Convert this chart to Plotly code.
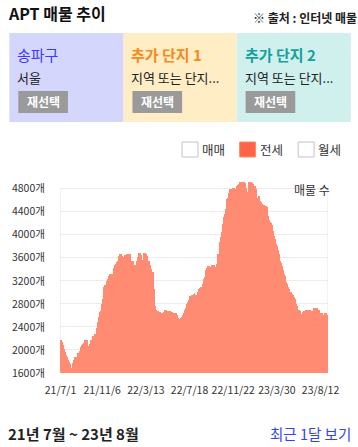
import plotly.graph_objects as go

# ---------------- data ----------------
listing_counts = [
    2170, 2170, 2140, 2080, 2020, 1960, 1920, 1880, 1820, 1790,
    1760, 1690, 1680, 1770, 1830, 1880, 1880, 1880, 1950, 1950,
    1980, 2060, 2080, 2100, 2120, 2170, 2170, 2170, 2070, 2050,
    2100, 2170, 2170, 2240, 2240, 2270, 2270, 2380, 2480, 2570,
    2660, 2680, 2800, 2880, 3090, 3120, 3120, 3190, 3240, 3280,
    3310, 3310, 3280, 3310, 3430, 3470, 3490, 3520, 3550, 3630,
    3660, 3660, 3630, 3580, 3620, 3640, 3650, 3660, 3660, 3660,
    3660, 3540, 3540, 3550, 3480, 3400, 3480, 3540, 3620, 3680,
    3680, 3640, 3560, 3570, 3680, 3680, 3660, 3630, 3550, 3540,
    3470, 3400, 3350, 3350, 3060, 2760, 2690, 2680, 2670, 2660,
    2660, 2650, 2640, 2620, 2660, 2700, 2700, 2650, 2670, 2670,
    2670, 2660, 2660, 2650, 2600, 2640, 2640, 2600, 2550, 2510,
    2540, 2560, 2570, 2600, 2640, 2700, 2720, 2800, 2830, 2860,
    2940, 2940, 2950, 2950, 2980, 2990, 2960, 2950, 2930, 3000,
    3050, 3080, 3090, 3090, 3150, 3240, 3260, 3390, 3430, 3450,
    3450, 3370, 3440, 3470, 3480, 3480, 3420, 3440, 3500, 3660,
    3660, 3870, 3960, 4050, 4180, 4310, 4360, 4450, 4620, 4630,
    4720, 4800, 4800, 4800, 4810, 4810, 4770, 4800, 4840, 4870,
    4880, 4920, 4920, 4920, 4920, 4910, 4900, 4810, 4750, 4750,
    4910, 4920, 4920, 4900, 4880, 4850, 4840, 4800, 4630, 4630,
    4670, 4580, 4570, 4530, 4520, 4510, 4480, 4500, 4490, 4330,
    4250, 4220, 4210, 4170, 4070, 3980, 3930, 3840, 3800, 3730,
    3670, 3550, 3510, 3460, 3380, 3320, 3290, 3180, 3150, 3090,
    3050, 3000, 3000, 2980, 2960, 2920, 2890, 2800, 2760, 2690,
    2690, 2670, 2600, 2630, 2660, 2670, 2670, 2690, 2700, 2700,
    2700, 2700, 2680, 2670, 2680, 2720, 2730, 2730, 2720, 2690,
    2690, 2650, 2630, 2650, 2600, 2600, 2640, 2640, 2610, 2600,
]
date_tick_labels = ["21/7/1", "21/11/6", "22/3/13", "22/7/18", "22/11/22", "23/3/30", "23/8/12"]
date_tick_index = [0, 42, 86, 130, 174, 218, 262]
y_ticks = [1600, 2000, 2400, 2800, 3200, 3600, 4000, 4400, 4800]

panel_titles = ["송파구", "추가 단지 1", "추가 단지 2"]
panel_subtitles = ["서울", "지역 또는 단지...", "지역 또는 단지..."]
legend_labels = ["매매", "전세", "월세"]

# ---------------- geometry ----------------
W, H = 358, 447
ML, MR, MT, MB = 58, 30, 180, 74
PW, PH = W - ML - MR, H - MT - MB
FONT = "Noto Sans CJK KR"


def px(x):
    return (x - ML) / PW


def py(y):
    return (H - MB - y) / PH


bar_color = "#ff8b72"
fig = go.Figure()
fig.add_trace(go.Bar(
    x=list(range(len(listing_counts))), y=listing_counts,
    marker=dict(color=bar_color, line=dict(width=0)),
    hoverinfo="skip",
))

shapes = []
annotations = []

# panels
panel_x = [(7, 122), (122, 236), (236, 351)]
panel_bg = ["#d4d6fb", "#feedc5", "#d0f0ee"]
title_colors = ["#3d3df2", "#f7891c", "#16a19c"]
for i in range(3):
    x0, x1 = panel_x[i]
    shapes.append(dict(type="rect", xref="paper", yref="paper",
                       x0=px(x0), x1=px(x1), y0=py(122), y1=py(33),
                       fillcolor=panel_bg[i], line=dict(width=0), layer="below"))
    annotations.append(dict(xref="paper", yref="paper", x=px(x0 + 6), y=py(55),
                            xanchor="left", yanchor="middle", showarrow=False,
                            text=panel_titles[i] if i == 0 else "<b>%s</b>" % panel_titles[i],
                            font=dict(family=FONT, size=15, color=title_colors[i])))
    annotations.append(dict(xref="paper", yref="paper", x=px(x0 + 6), y=py(78),
                            xanchor="left", yanchor="middle", showarrow=False,
                            text=panel_subtitles[i],
                            font=dict(family=FONT, size=13, color="#222222")))
    shapes.append(dict(type="rect", xref="paper", yref="paper",
                       x0=px(x0 + 9), x1=px(x0 + 59), y0=py(113), y1=py(91),
                       fillcolor="#9a9a9a", line=dict(width=0)))
    annotations.append(dict(xref="paper", yref="paper", x=px(x0 + 34), y=py(102),
                            xanchor="center", yanchor="middle", showarrow=False,
                            text="<b>재선택</b>",
                            font=dict(family=FONT, size=12, color="white")))

# title + source
annotations.append(dict(xref="paper", yref="paper", x=px(4), y=py(13),
                        xanchor="left", yanchor="middle", showarrow=False,
                        text="<b>APT 매물 추이</b>",
                        font=dict(family=FONT, size=16, color="#111111")))
annotations.append(dict(xref="paper", yref="paper", x=px(359), y=py(17),
                        xanchor="right", yanchor="middle", showarrow=False,
                        text="<b>※ 출처 : 인터넷 매물</b>",
                        font=dict(family=FONT, size=12, color="#222222")))

# legend (checkbox style)
box_x = [181, 239, 298]
for i in range(3):
    sel = (i == 1)
    shapes.append(dict(type="rect", xref="paper", yref="paper",
                       x0=px(box_x[i]), x1=px(box_x[i] + 16), y0=py(157), y1=py(142),
                       fillcolor="#ff6347" if sel else "white",
                       line=dict(color="#ff8a66" if sel else "#c4c4cc", width=1)))
    annotations.append(dict(xref="paper", yref="paper", x=px(box_x[i] + 18), y=py(149.5),
                            xanchor="left", yanchor="middle", showarrow=False,
                            text=legend_labels[i],
                            font=dict(family=FONT, size=12.5, color="#333333")))

# plot frame lines
for xv in [-0.5, len(listing_counts) - 0.5]:
    shapes.append(dict(type="line", xref="x", yref="y", x0=xv, x1=xv, y0=1600, y1=4800,
                       line=dict(color="#e6e6e6", width=1), layer="below"))

annotations.append(dict(xref="paper", yref="paper", x=px(332), y=py(189),
                        xanchor="right", yanchor="middle", showarrow=False,
                        text="매물 수",
                        font=dict(family=FONT, size=12, color="#333333")))

# footer
annotations.append(dict(xref="paper", yref="paper", x=px(4), y=py(433),
                        xanchor="left", yanchor="middle", showarrow=False,
                        text="<b>21년 7월 ~ 23년 8월</b>",
                        font=dict(family=FONT, size=15, color="#222222")))
annotations.append(dict(xref="paper", yref="paper", x=px(353), y=py(433),
                        xanchor="right", yanchor="middle", showarrow=False,
                        text="최근 1달 보기",
                        font=dict(family=FONT, size=14.5, color="#3344ee")))

fig.update_layout(
    width=W, height=H,
    margin=dict(l=ML, r=MR, t=MT, b=MB, pad=0),
    paper_bgcolor="white", plot_bgcolor="white",
    showlegend=False, bargap=0,
    font=dict(family=FONT, color="#333333"),
    shapes=shapes, annotations=annotations,
    xaxis=dict(range=[-0.5, len(listing_counts) - 0.5], tickmode="array",
               tickvals=date_tick_index, ticktext=date_tick_labels,
               tickfont=dict(size=10.5, color="#333333"), tickangle=0, showgrid=False,
               zeroline=False, showline=False, ticks="outside", ticklen=7,
               tickcolor="rgba(0,0,0,0)", fixedrange=True),
    yaxis=dict(range=[1600, 4950], tickmode="array", tickvals=y_ticks,
               ticktext=["%d개" % v for v in y_ticks],
               tickfont=dict(size=10.5, color="#333333"), showgrid=True,
               gridcolor="#ececec", gridwidth=1, zeroline=False, showline=False,
               ticks="outside", ticklen=12, tickcolor="rgba(0,0,0,0)", fixedrange=True),
)

fig.write_html("out.html", config={"displayModeBar": False},
               post_script="document.body.style.margin='0px';document.body.style.overflow='hidden';")
